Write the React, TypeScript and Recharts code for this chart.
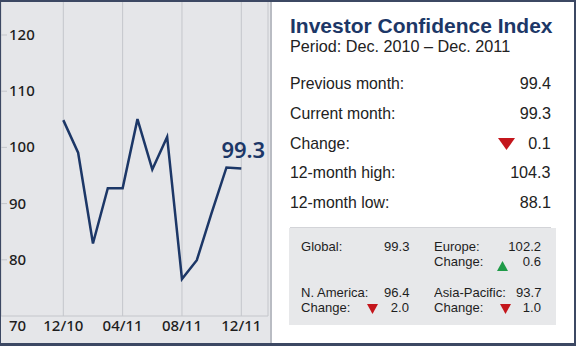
import { LineChart, Line, XAxis, YAxis, CartesianGrid } from 'recharts';

const MONTHS = ['12/10', '01/11', '02/11', '03/11', '04/11', '05/11', '06/11', '07/11', '08/11', '09/11', '10/11', '11/11', '12/11'];
const INDEX_VALUES = [104.2, 100.9, 91.7, 97.3, 97.3, 104.3, 99.2, 102.5, 88.1, 90.0, 94.8, 99.4, 99.3];
const X_TICK_LABELS = ['12/10', '04/11', '08/11', '12/11'];
const Y_TICK_LABELS = [70, 80, 90, 100, 110, 120];

const SUMMARY_LABELS = ['Previous month:', 'Current month:', 'Change:', '12-month high:', '12-month low:'];
const SUMMARY_VALUES = ['99.4', '99.3', '0.1', '104.3', '88.1'];
const SUMMARY_DIRECTION = [null, null, 'down', null, null];

const REGION_NAMES = ['Global:', 'Europe:', 'N. America:', 'Asia-Pacific:'];
const REGION_VALUES = ['99.3', '102.2', '96.4', '93.7'];
const REGION_CHANGES = [null, '0.6', '2.0', '1.0'];
const REGION_DIRECTION = [null, 'up', 'down', 'down'];

const NAVY = '#1c3767';
const GRAY_BG = '#e5e6e9';
const GRID = '#c4c6cb';
const BORDER = '#3c4863';
const RED = '#c4161c';
const GREEN = '#1f9a48';
const SANS = '"Liberation Sans", Arial, sans-serif';
const AXIS_FONT = '"Noto Sans", sans-serif';

const data = MONTHS.map((m, i) => ({ i, month: m, value: INDEX_VALUES[i] }));
const xTicks = X_TICK_LABELS.map((l) => MONTHS.indexOf(l));

function YTick({ x, y, payload }: any) {
  const isBase = payload.value === Y_TICK_LABELS[0];
  return (
    <g>
      {!isBase && <line x1={x - 2} x2={x + 6} y1={y} y2={y} stroke={GRID} />}
      <text
        x={x + 8}
        y={isBase ? y + 10 : y}
        dy={5}
        textAnchor="start"
        fontSize={15}
        fontWeight={500}
        fontFamily={AXIS_FONT}
        fill="#1e1e1e"
      >
        {payload.value}
      </text>
    </g>
  );
}

function XTick({ x, y, payload }: any) {
  return (
    <text x={x} y={y + 15} textAnchor="middle" fontSize={15} fontWeight={500} fontFamily={AXIS_FONT} fill="#1e1e1e">
      {MONTHS[payload.value]}
    </text>
  );
}

function LastLabel({ x, y, index, value }: any) {
  if (index !== INDEX_VALUES.length - 1) return null;
  return (
    <text x={x + 2} y={y - 10} textAnchor="middle" fontSize={22} fontWeight={600} fontFamily={AXIS_FONT} fill={NAVY}>
      {value.toFixed(1)}
    </text>
  );
}

function Triangle({ dir, w, h }: { dir: string | null; w: number; h: number }) {
  if (!dir) return null;
  const pts = dir === 'down' ? `0,0 ${w},0 ${w / 2},${h}` : `0,${h} ${w},${h} ${w / 2},0`;
  return (
    <svg width={w} height={h} style={{ display: 'block' }}>
      <polygon points={pts} fill={dir === 'down' ? RED : GREEN} />
    </svg>
  );
}

function Text({ left, right, cy, size, children, weight = 400, color = '#222', squeeze = 1, lh }: any) {
  const h = lh ?? size;
  const style: any = {
    position: 'absolute',
    top: cy - h / 2,
    height: h,
    lineHeight: `${h}px`,
    fontSize: size,
    fontWeight: weight,
    color,
    fontFamily: SANS,
    whiteSpace: 'nowrap',
    transform: squeeze !== 1 ? `scaleX(${squeeze})` : undefined,
  };
  if (right !== undefined) {
    style.right = 576 - right;
    style.textAlign = 'right';
    style.transformOrigin = 'right center';
  } else {
    style.left = left;
    style.transformOrigin = 'left center';
  }
  return <div style={style}>{children}</div>;
}

export default function App() {
  const rowY = [83, 113, 143, 172.5, 202];
  const regionPos = [
    { left: 301, right: 409, cy: 246.5, cy2: 261.5, tri: 0, triTop: 0 },
    { left: 434, right: 541, cy: 246.5, cy2: 261.5, tri: 502, triTop: 261 },
    { left: 301, right: 409, cy: 292.5, cy2: 307.5, tri: 372, triTop: 304 },
    { left: 434, right: 541, cy: 292.5, cy2: 307.5, tri: 505, triTop: 304 },
  ];
  const rs = 13.6;
  return (
    <div style={{ position: 'fixed', left: 0, top: 0, width: 576, height: 346, background: BORDER, overflow: 'hidden' }}>
      <div style={{ position: 'absolute', left: 1, top: 2, width: 269, height: 341, background: GRAY_BG }}>
        <LineChart width={269} height={341} data={data} margin={{ top: 0, right: 2, bottom: 0, left: 0 }}>
          <CartesianGrid vertical horizontal={false} stroke={GRID} yAxisId="data" />
          <XAxis
            dataKey="i"
            type="number"
            domain={[-4.2, 13.8]}
            ticks={xTicks}
            allowDataOverflow
            height={27}
            tickSize={0}
            tickMargin={0}
            tickLine={false}
            stroke={GRID}
            tick={<XTick />}
          />
          <YAxis yAxisId="data" hide type="number" domain={[84.35, 116.17]} allowDataOverflow />
          <YAxis
            yAxisId="scale"
            mirror
            type="number"
            domain={[70, 125.87]}
            ticks={Y_TICK_LABELS}
            allowDataOverflow
            axisLine={false}
            tickLine={false}
            tickSize={0}
            tickMargin={0}
            tick={<YTick />}
          />
          <Line
            yAxisId="data"
            dataKey="value"
            stroke={NAVY}
            strokeWidth={2.5}
            dot={false}
            isAnimationActive={false}
            label={<LastLabel />}
          />
        </LineChart>
      </div>
      <div style={{ position: 'absolute', left: 270, top: 2, width: 2, height: 341, background: '#b9bcc3' }} />
      <div style={{ position: 'absolute', left: 272, top: 2, width: 302, height: 341, background: '#ffffff' }} />

      <Text left={290} cy={25} size={21} weight={700} color={NAVY}>Investor Confidence Index</Text>
      <Text left={290} cy={46} size={16.2}>Period: Dec. 2010 – Dec. 2011</Text>

      {SUMMARY_LABELS.map((label, k) => (
        <div key={label}>
          <Text left={290} cy={rowY[k]} size={17} squeeze={0.93}>{label}</Text>
          <Text right={551} cy={rowY[k]} size={17} squeeze={0.95}>{SUMMARY_VALUES[k]}</Text>
          {SUMMARY_DIRECTION[k] && (
            <div style={{ position: 'absolute', left: 498, top: rowY[k] - 5 }}>
              <Triangle dir={SUMMARY_DIRECTION[k]} w={17} h={12} />
            </div>
          )}
        </div>
      ))}

      <div style={{ position: 'absolute', left: 290, top: 227, width: 261, height: 1, background: '#d3d4d8' }} />
      <div style={{ position: 'absolute', left: 289, top: 228, width: 267, height: 97, background: '#e7e8ea' }} />

      {REGION_NAMES.map((name, k) => {
        const p = regionPos[k];
        return (
          <div key={name}>
            <Text left={p.left} cy={p.cy} size={rs} lh={13} squeeze={0.96} color="#1e1e1e">{name}</Text>
            <Text right={p.right} cy={p.cy} size={rs} lh={13} squeeze={0.96} color="#1e1e1e">{REGION_VALUES[k]}</Text>
            {REGION_CHANGES[k] && (
              <>
                <Text left={p.left} cy={p.cy2} size={rs} lh={13} squeeze={0.96} color="#1e1e1e">Change:</Text>
                <Text right={p.right} cy={p.cy2} size={rs} lh={13} squeeze={0.96} color="#1e1e1e">{REGION_CHANGES[k]}</Text>
                <div style={{ position: 'absolute', left: p.tri - 5.5, top: p.triTop }}>
                  <Triangle dir={REGION_DIRECTION[k]} w={11} h={10} />
                </div>
              </>
            )}
          </div>
        );
      })}
    </div>
  );
}
